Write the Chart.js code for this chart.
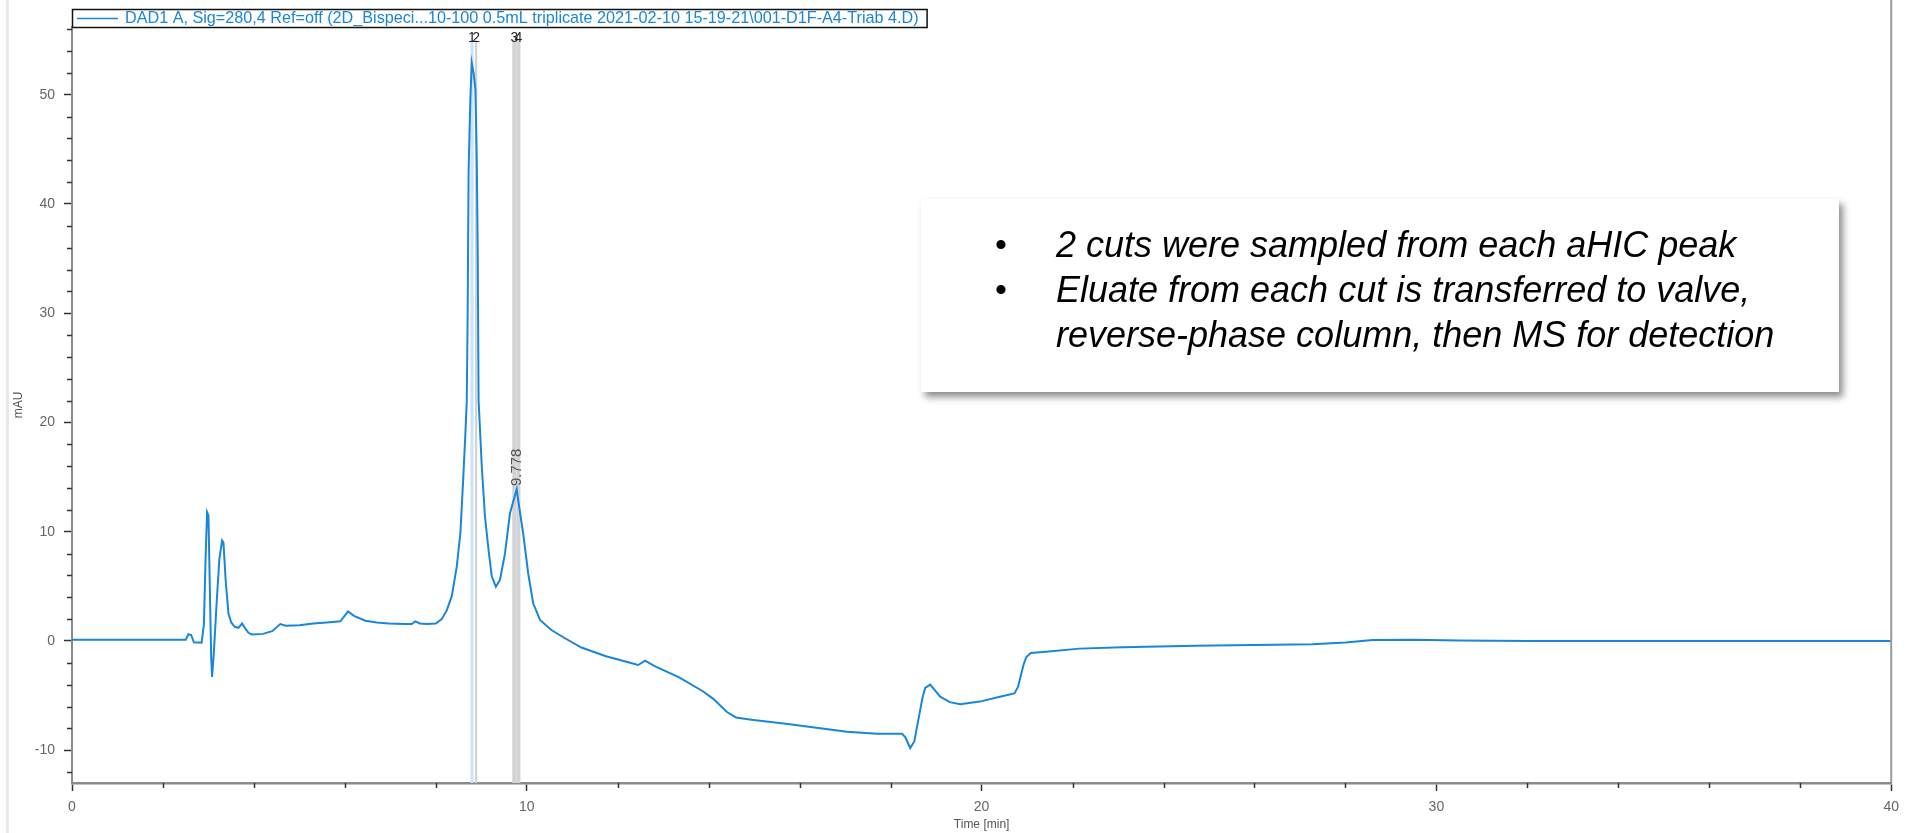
<!DOCTYPE html>
<html>
<head>
<meta charset="utf-8">
<title>DAD1 A chromatogram</title>
<script src="https://cdn.jsdelivr.net/npm/chart.js@4.4.1/dist/chart.umd.min.js"></script>
<style>
  html, body { margin: 0; padding: 0; background: #fff; overflow: hidden; }
  #wrap { position: relative; width: 1907px; height: 833px; }
  #edge { position: absolute; left: 6px; top: 0; width: 3px; height: 833px; background: #e9e9e9; }
  #chart { position: absolute; left: 0; top: 0; }
  #note {
    position: absolute; left: 921px; top: 199px; width: 918px; height: 193px;
    background: #fff; box-shadow: 4px 5px 7px rgba(0,0,0,0.45);
    font-family: "Liberation Sans", Arial, sans-serif; font-style: italic;
    font-size: 36px; line-height: 45px; color: #000;
  }
  #note .row { position: absolute; left: 0; width: 100%; }
  #note .dot { position: absolute; left: 74px; font-style: normal; font-size: 34px; }
  #note .txt { position: absolute; left: 135px; white-space: nowrap; }
</style>
</head>
<body>
<div id="wrap">
  <div id="edge"></div>
  <canvas id="chart" width="1907" height="833"></canvas>
  <div id="note">
    <div class="row" style="top:23px"><span class="dot">•</span><span class="txt">2 cuts were sampled from each aHIC peak</span></div>
    <div class="row" style="top:68px"><span class="dot">•</span><span class="txt">Eluate from each cut is transferred to valve,</span></div>
    <div class="row" style="top:113px"><span class="txt">reverse-phase column, then MS for detection</span></div>
  </div>
</div>
<script>
// Signal trace: retention time (min) and absorbance (mAU)
const timeMin = [
  0.00, 1.00, 2.00, 2.50, 2.56, 2.62, 2.68, 2.85, 2.90, 2.94,
  2.97, 3.00, 3.03, 3.06, 3.08, 3.12, 3.18, 3.24, 3.30, 3.33,
  3.38, 3.44, 3.50, 3.58, 3.66, 3.74, 3.80, 3.88, 3.95, 4.20,
  4.40, 4.58, 4.70, 5.00, 5.30, 5.60, 5.90, 6.07, 6.20, 6.45,
  6.70, 6.97, 7.30, 7.47, 7.55, 7.65, 7.80, 8.00, 8.13, 8.24,
  8.35, 8.46, 8.54, 8.60, 8.65, 8.68, 8.70, 8.72, 8.76, 8.79,
  8.83, 8.87, 8.90, 8.92, 8.94, 9.01, 9.08, 9.16, 9.23, 9.32,
  9.41, 9.52, 9.63, 9.778, 9.81, 9.92, 10.03, 10.14, 10.29, 10.54,
  10.84, 11.20, 11.74, 12.27, 12.45, 12.60, 12.81, 13.34, 13.87, 14.10,
  14.40, 14.60, 14.94, 15.74, 17.04, 17.70, 18.25, 18.32, 18.43, 18.52,
  18.61, 18.70, 18.76, 18.87, 19.09, 19.30, 19.53, 19.96, 20.40, 20.72,
  20.80, 20.86, 20.92, 20.98, 21.08, 21.42, 22.15, 23.10, 24.70, 27.27,
  28.00, 28.60, 29.50, 30.50, 32.00, 40.00
];
const signalMAU = [
  0.12, 0.12, 0.12, 0.12, 0.62, 0.55, -0.12, -0.15, 1.5, 8.0,
  11.8, 11.5, 5.0, -1.5, -3.3, -1.0, 3.5, 7.5, 9.2, 9.0,
  5.5, 2.5, 1.7, 1.3, 1.2, 1.6, 1.2, 0.75, 0.6, 0.65,
  0.9, 1.55, 1.4, 1.45, 1.6, 1.7, 1.8, 2.7, 2.3, 1.85,
  1.7, 1.6, 1.55, 1.55, 1.8, 1.6, 1.55, 1.6, 2.0, 2.8,
  4.1, 6.8, 9.9, 14.7, 19.0, 22.0, 30.0, 43.0, 49.8, 52.9,
  52.0, 50.5, 44.0, 36.0, 22.0, 16.0, 11.4, 8.3, 5.9, 4.97,
  5.6, 8.0, 11.7, 13.9, 12.9, 9.86, 6.2, 3.45, 1.92, 1.0,
  0.25, -0.6, -1.4, -2.0, -2.2, -1.8, -2.3, -3.3, -4.6, -5.3,
  -6.5, -7.0, -7.2, -7.6, -8.3, -8.5, -8.5, -8.8, -9.8, -9.2,
  -7.2, -5.2, -4.3, -4.0, -5.1, -5.6, -5.8, -5.55, -5.1, -4.8,
  -4.2, -3.2, -2.2, -1.5, -1.1, -0.98, -0.7, -0.58, -0.43, -0.3,
  -0.15, 0.1, 0.12, 0.05, 0.0, 0.0
];

// Fraction cuts taken across the two peaks (min)
const cutNames = ['1', '2', '3', '4'];
const cutStart = [8.76, 8.86, 9.68, 9.77];
const cutEnd   = [8.83, 8.91, 9.77, 9.86];

// Annotated retention time
const peakTimes  = [9.778];
const peakLabels = ['9.778'];

// Axis tick labels
const xTickLabels = [0, 10, 20, 30, 40];
const yTickLabels = [-10, 0, 10, 20, 30, 40, 50];

const traceLabel = 'DAD1 A, Sig=280,4 Ref=off (2D_Bispeci...10-100 0.5mL triplicate 2021-02-10 15-19-21\\001-D1F-A4-Triab 4.D)';

const LINE = '#1a86d9';
const TICK_FONT = { family: '"Liberation Sans", Arial, sans-serif', size: 14 };
const BAND_TOP = 55;

const decor = {
  id: 'decor',
  beforeDatasetsDraw(chart) {
    const { ctx, chartArea, scales: { x, y } } = chart;
    ctx.save();
    const top = y.getPixelForValue(BAND_TOP);
    cutStart.forEach((s, i) => {
      const x0 = x.getPixelForValue(s);
      const x1 = x.getPixelForValue(cutEnd[i]);
      ctx.fillStyle = i === 0 ? '#cfe3f8' : '#d3d3d3';
      ctx.fillRect(x0, top, x1 - x0, chartArea.bottom - top);
    });
    ctx.restore();
  },
  afterDraw(chart) {
    const { ctx, chartArea, scales: { x, y } } = chart;
    ctx.save();

    // minor tick marks
    ctx.strokeStyle = '#333';
    ctx.lineWidth = 1.5;
    ctx.beginPath();
    for (let v = 2; v < 40; v += 2) {
      if (v % 10 === 0) continue;
      const px = Math.round(x.getPixelForValue(v)) + 0.5;
      ctx.moveTo(px, chartArea.bottom);
      ctx.lineTo(px, chartArea.bottom + 5);
    }
    for (let v = -12; v <= 56; v += 2) {
      if (v % 10 === 0) continue;
      const py = Math.round(y.getPixelForValue(v)) + 0.5;
      ctx.moveTo(chartArea.left - 5, py);
      ctx.lineTo(chartArea.left, py);
    }
    ctx.stroke();

    // right frame
    ctx.strokeStyle = '#9a9a9a';
    ctx.lineWidth = 2;
    ctx.beginPath();
    ctx.moveTo(chartArea.right, 0);
    ctx.lineTo(chartArea.right, chartArea.bottom);
    ctx.stroke();

    // cut numbers
    ctx.fillStyle = '#222';
    ctx.font = '14px "Liberation Sans", Arial, sans-serif';
    ctx.textAlign = 'center';
    ctx.textBaseline = 'middle';
    cutNames.forEach((n, i) => {
      const cx = x.getPixelForValue((cutStart[i] + cutEnd[i]) / 2);
      ctx.fillText(n, cx, chartArea.top + 11);
    });

    // retention time labels, rotated above each apex
    ctx.fillStyle = '#555';
    ctx.font = '15px "Liberation Sans", Arial, sans-serif';
    peakTimes.forEach((t, i) => {
      const idx = timeMin.indexOf(t);
      const px = x.getPixelForValue(t);
      const py = y.getPixelForValue(signalMAU[idx]);
      ctx.save();
      ctx.translate(px, py - 3);
      ctx.rotate(-Math.PI / 2);
      ctx.textAlign = 'left';
      ctx.textBaseline = 'middle';
      ctx.fillText(peakLabels[i], 0, 0);
      ctx.restore();
    });

    // trace legend box
    ctx.font = '16.2px "Liberation Sans", Arial, sans-serif';
    const tx = chartArea.left + 53;
    const tw = ctx.measureText(traceLabel).width;
    const bw = tx + tw + 8 - chartArea.left;
    ctx.fillStyle = '#fff';
    ctx.fillRect(chartArea.left, 9, bw, 19);
    ctx.strokeStyle = '#111';
    ctx.lineWidth = 1.5;
    ctx.strokeRect(chartArea.left + 0.5, 9.5, bw, 18);
    ctx.strokeStyle = LINE;
    ctx.lineWidth = 1.5;
    ctx.beginPath();
    ctx.moveTo(chartArea.left + 5, 18.5);
    ctx.lineTo(chartArea.left + 46, 18.5);
    ctx.stroke();
    ctx.fillStyle = LINE;
    ctx.textAlign = 'left';
    ctx.textBaseline = 'middle';
    ctx.fillText(traceLabel, tx, 19);

    ctx.restore();
  }
};

new Chart(document.getElementById('chart'), {
  type: 'line',
  data: {
    datasets: [{
      label: traceLabel,
      data: timeMin.map((t, i) => ({ x: t, y: signalMAU[i] })),
      borderColor: LINE,
      borderWidth: 2,
      pointRadius: 0,
      tension: 0,
      fill: false
    }]
  },
  options: {
    responsive: false,
    animation: false,
    layout: { padding: { left: 0, right: 9, top: 27, bottom: 0 } },
    plugins: { legend: { display: false }, tooltip: { enabled: false } },
    scales: {
      x: {
        type: 'linear',
        min: 0, max: 40,
        afterFit(s) { s.height = 50; },
        ticks: {
          stepSize: 2, autoSkip: false, maxRotation: 0, padding: 8,
          color: '#666', font: TICK_FONT,
          callback: v => (xTickLabels.includes(v) ? String(v) : '')
        },
        grid: {
          drawOnChartArea: false, drawTicks: true, tickLength: 8, tickWidth: 1.5,
          tickColor: c => (xTickLabels.includes(c.tick && c.tick.value) ? '#333' : 'rgba(0,0,0,0)')
        },
        border: { color: '#8a8a8a', width: 2.5 },
        title: {
          display: true, text: 'Time [min]', color: '#555',
          font: { family: '"Liberation Sans", Arial, sans-serif', size: 12 },
          padding: { top: 0, bottom: 1 }
        }
      },
      y: {
        type: 'linear',
        min: -13, max: 56.2,
        afterFit(s) { s.width = 72; },
        afterBuildTicks(s) {
          const t = [];
          for (let v = -12; v <= 56; v += 2) t.push({ value: v });
          s.ticks = t;
        },
        ticks: {
          autoSkip: false, padding: 9, color: '#666', font: TICK_FONT,
          callback: v => (yTickLabels.includes(v) ? String(v) : '')
        },
        grid: {
          drawOnChartArea: false, drawTicks: true, tickLength: 8, tickWidth: 1.5,
          tickColor: c => (yTickLabels.includes(c.tick && c.tick.value) ? '#333' : 'rgba(0,0,0,0)')
        },
        border: { color: '#8a8a8a', width: 2 },
        title: {
          display: true, text: 'mAU', color: '#555',
          font: { family: '"Liberation Sans", Arial, sans-serif', size: 12 },
          padding: { top: 11, bottom: 0 }
        }
      }
    }
  },
  plugins: [decor]
});
</script>
</body>
</html>
